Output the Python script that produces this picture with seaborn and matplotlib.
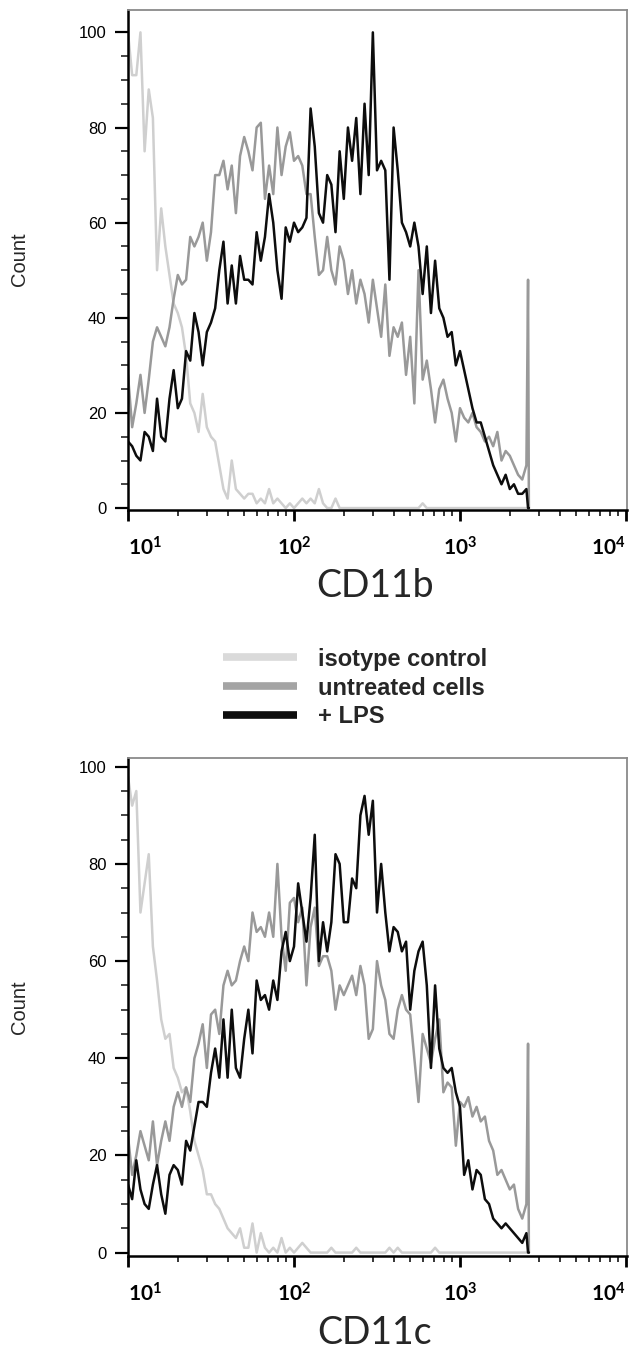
import matplotlib
matplotlib.use('Agg')
import matplotlib.pyplot as plt
import seaborn as sns
import numpy as np
import pandas as pd
from matplotlib import font_manager
from matplotlib.lines import Line2D
from matplotlib.ticker import MultipleLocator, LogLocator, NullFormatter

# histogram channels: 40 per decade from 10^1 to 10^3.4, then the off-scale pile-up channel
channels = 10 ** np.linspace(1, 3.4, 97)
pileup_channels = [2570, 2600]

samples = ['isotype control', 'untreated cells', '+ LPS']

# CD11b counts (read per channel)
cd11b_isotype = [100, 91, 91, 100, 75, 88, 82, 50, 63, 55, 49, 43, 41, 38, 32, 22, 20, 16, 24, 17,
                 15, 14, 9, 4, 2, 10, 4, 3, 2, 3, 3, 1, 2, 1, 4, 1, 2, 1, 0, 1, 0,
                 1, 2, 1, 2, 1, 4, 1, 0, 0, 2, 0, 0, 0, 0, 0, 0, 0, 0, 0, 0,
                 0, 0, 0, 0, 0, 0, 0, 0, 0, 0, 1, 0, 0, 0, 0, 0, 0, 0, 0, 0,
                 0, 0, 0, 0, 0, 0, 0, 0, 0, 0, 0, 0, 0, 0, 0, 0]
cd11b_untreated = [28, 17, 22, 28, 20, 27, 35, 38, 36, 34, 38, 44, 49, 47, 48, 57, 55, 57, 60, 52,
                   58, 70, 70, 73, 67, 72, 62, 74, 78, 75, 71, 80, 81, 65, 72, 66, 80, 70, 76, 79, 73,
                   74, 72, 66, 66, 57, 49, 50, 57, 50, 47, 55, 52, 45, 50, 43, 48, 45, 39, 48, 42,
                   36, 47, 32, 38, 36, 39, 28, 36, 22, 50, 27, 31, 25, 18, 25, 27, 23, 20, 14, 21,
                   19, 18, 20, 17, 16, 14, 15, 13, 16, 10, 12, 11, 9, 7, 6, 9]
cd11b_lps = [14, 13, 11, 10, 16, 15, 12, 23, 15, 14, 23, 29, 21, 23, 33, 31, 41, 37, 30, 37,
             39, 42, 50, 56, 43, 51, 43, 53, 48, 48, 47, 58, 52, 57, 66, 60, 50, 44, 59, 56, 60,
             58, 59, 61, 84, 76, 62, 60, 70, 68, 58, 75, 65, 80, 73, 82, 66, 85, 70, 100, 71,
             73, 71, 48, 80, 71, 60, 58, 55, 60, 55, 45, 55, 41, 52, 42, 40, 36, 37, 30, 33,
             29, 25, 21, 18, 18, 15, 12, 9, 7, 5, 7, 4, 5, 3, 3, 4]
cd11b_pileup = {'isotype control': [0, 0], 'untreated cells': [48, 0], '+ LPS': [0, 0]}

# CD11c counts
cd11c_isotype = [98, 92, 95, 70, 76, 82, 63, 56, 48, 44, 45, 38, 36, 33, 34, 29, 23, 20, 17, 12,
                 12, 10, 9, 7, 5, 4, 3, 5, 1, 1, 6, 0, 4, 1, 0, 1, 0, 3, 0, 1, 0,
                 1, 2, 1, 0, 0, 0, 0, 0, 1, 0, 0, 0, 0, 0, 1, 0, 0, 0, 0, 0,
                 0, 0, 1, 0, 1, 0, 0, 0, 0, 0, 0, 0, 0, 1, 0, 0, 0, 0, 0, 0,
                 0, 0, 0, 0, 0, 0, 0, 0, 0, 0, 0, 0, 0, 0, 0, 0]
cd11c_untreated = [24, 16, 20, 25, 22, 19, 27, 18, 23, 27, 23, 30, 33, 30, 34, 31, 40, 43, 47, 38,
                   49, 50, 45, 55, 58, 55, 56, 60, 63, 60, 70, 66, 67, 65, 70, 65, 80, 65, 58, 72, 73,
                   68, 71, 55, 67, 71, 59, 61, 61, 58, 50, 55, 53, 55, 57, 53, 59, 55, 44, 46, 60,
                   55, 52, 45, 44, 50, 53, 50, 49, 40, 31, 45, 42, 39, 44, 48, 33, 35, 34, 22, 31,
                   30, 32, 28, 30, 27, 28, 23, 21, 16, 17, 15, 13, 14, 9, 7, 10]
cd11c_lps = [14, 11, 19, 13, 10, 9, 14, 18, 12, 8, 16, 18, 17, 14, 23, 21, 26, 31, 31, 30,
             37, 42, 36, 48, 36, 50, 38, 36, 44, 50, 41, 56, 52, 53, 50, 56, 52, 62, 66, 60, 63,
             76, 70, 64, 73, 86, 60, 68, 62, 68, 82, 80, 68, 68, 77, 75, 90, 94, 86, 93, 70,
             80, 70, 62, 67, 66, 62, 64, 50, 58, 62, 64, 55, 38, 55, 42, 38, 37, 38, 33, 30,
             16, 19, 13, 17, 16, 11, 10, 7, 6, 5, 6, 5, 4, 3, 2, 4]
cd11c_pileup = {'isotype control': [0, 0], 'untreated cells': [43, 0], '+ LPS': [0, 0]}

palette = {'isotype control': '#cfcfcf', 'untreated cells': '#999999', '+ LPS': '#0d0d0d'}
legend_colors = ['#dadada', '#a4a4a4', '#0d0d0d']

sns.set_style('white')
installed = {f.name for f in font_manager.fontManager.ttflist}
has_narrow = 'Liberation Sans Narrow' in installed
body_font = 'Liberation Sans Narrow' if has_narrow else 'Liberation Sans'
plt.rcParams['font.family'] = [body_font, 'DejaVu Sans']
plt.rcParams['mathtext.fontset'] = 'custom'
plt.rcParams['mathtext.rm'] = 'Lato:bold'
plt.rcParams['mathtext.it'] = 'Lato:bold'
plt.rcParams['mathtext.bf'] = 'Lato:bold'


def make_frame(series, pileup):
    x_all = np.concatenate([channels, pileup_channels])
    parts = []
    for name, counts in zip(samples, series):
        parts.append(pd.DataFrame({'intensity': x_all,
                                   'count': list(counts) + pileup[name],
                                   'sample': name}))
    return pd.concat(parts, ignore_index=True)


df_b = make_frame([cd11b_isotype, cd11b_untreated, cd11b_lps], cd11b_pileup)
df_c = make_frame([cd11c_isotype, cd11c_untreated, cd11c_lps], cd11c_pileup)

W, H = 630, 1353
fig = plt.figure(figsize=(W / 100, H / 100), dpi=100)
ax1 = fig.add_axes([128 / W, 1 - 509.5 / H, 499 / W, 499.5 / H])
ax2 = fig.add_axes([128 / W, 1 - 1256 / H, 499 / W, 498 / H])

ytick_size = 13 if has_narrow else 12
panels = [(ax1, df_b, (-0.3, 104.7), 'CD11b', 597, 259.5),
          (ax2, df_c, (-0.7, 101.8), 'CD11c', 1344, 1007)]

for ax, df, ylim, xlabel, xlabel_y, count_y in panels:
    sns.lineplot(data=df, x='intensity', y='count', hue='sample', hue_order=samples,
                 palette=palette, estimator=None, sort=False, linewidth=1.8,
                 legend=False, ax=ax)
    ax.set_xscale('log')
    ax.set_xlim(10, 10140)
    ax.set_ylim(*ylim)
    ax.set_xlabel('')
    ax.set_ylabel('')

    ax.set_yticks([0, 20, 40, 60, 80, 100])
    ax.yaxis.set_minor_locator(MultipleLocator(5))
    ax.set_xticks([10, 100, 1000, 10000])
    xt = ax.set_xticklabels([r'$10^{1}$', r'$10^{2}$', r'$10^{3}$', r'$10^{4}$'], fontsize=15)
    xt[0].set_ha('left')
    xt[-1].set_ha('right')
    ax.xaxis.set_minor_locator(LogLocator(base=10, subs=np.arange(2, 10), numticks=20))
    ax.xaxis.set_minor_formatter(NullFormatter())

    ax.tick_params(axis='y', which='major', left=True, direction='out', length=9.5,
                   width=1.6, pad=6, labelsize=ytick_size, colors='black')
    ax.tick_params(axis='y', which='minor', left=True, direction='out', length=5, width=1.2)
    ax.tick_params(axis='x', which='major', bottom=True, direction='out', length=8,
                   width=2.0, pad=11, colors='black')
    ax.tick_params(axis='x', which='minor', bottom=True, direction='out', length=4, width=1.3)

    for side in ['top', 'right']:
        ax.spines[side].set_color('#8a8a8a')
        ax.spines[side].set_linewidth(1.3)
    for side in ['left', 'bottom']:
        ax.spines[side].set_color('black')
        ax.spines[side].set_linewidth(1.8)

    fig.text(375 / W, 1 - xlabel_y / H, xlabel, family='Lato', fontsize=27,
             ha='center', va='baseline')
    fig.text(19 / W, 1 - count_y / H, 'Count', rotation=90, ha='center', va='center',
             fontsize=16 if has_narrow else 14.5)

# legend between the two panels
if has_narrow:
    leg_pt, leg_spacing = 20, 0.0
else:
    leg_pt, leg_spacing = 17, 0.25
leg_px = leg_pt * 100 / 72
handles = [Line2D([], [], color=c, linewidth=5.5, solid_capstyle='butt') for c in legend_colors]
fig.legend(handles, samples, loc='center left', bbox_to_anchor=(223 / W, 1 - 688 / H),
           frameon=False, borderpad=0, borderaxespad=0,
           handlelength=74 / leg_px, handletextpad=21 / leg_px, labelspacing=leg_spacing,
           prop={'family': body_font, 'weight': 'bold', 'size': leg_pt})

fig.savefig('out.png', dpi=100)
